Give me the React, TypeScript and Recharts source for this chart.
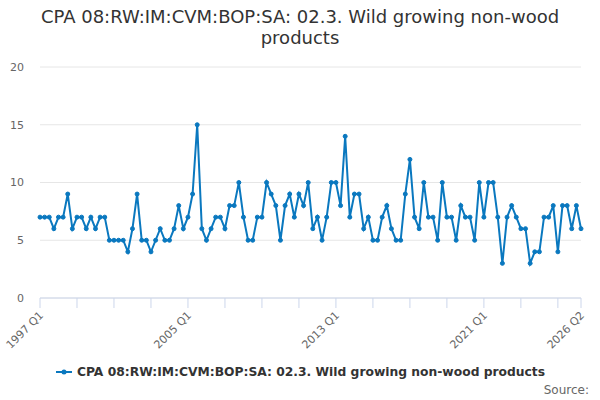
import React from "react";
import { LineChart, Line, XAxis, YAxis, CartesianGrid } from "recharts";

const seriesName = "CPA 08:RW:IM:CVM:BOP:SA: 02.3. Wild growing non-wood products";

// quarterly values, 1997 Q1 .. 2026 Q2
const values = [
  7, 7, 7, 6, 7, 7, 9, 6, 7, 7, 6, 7, 6, 7, 7, 5, 5, 5, 5, 4, 6, 9, 5, 5, 4, 5, 6, 5, 5, 6, 8, 6, 7,
  9, 15, 6, 5, 6, 7, 7, 6, 8, 8, 10, 7, 5, 5, 7, 7, 10, 9, 8, 5, 8, 9, 7, 9, 8, 10, 6, 7, 5, 7, 10, 10, 8,
  14, 7, 9, 9, 6, 7, 5, 5, 7, 8, 6, 5, 5, 9, 12, 7, 6, 10, 7, 7, 5, 10, 7, 7, 5, 8,
  7, 7, 5, 10, 7, 10, 10, 7, 3, 7, 8, 7, 6, 6, 3, 4, 4, 7, 7, 8, 4, 8, 8, 6, 8, 6,
];

const quarters: string[] = [];
for (let y = 1997; y <= 2026; y++) {
  for (let q = 1; q <= 4; q++) {
    if (quarters.length < values.length) quarters.push(`${y} Q${q}`);
  }
}

const tickMarks = quarters.filter((_, i) => i % 8 === 0 || i === quarters.length - 1);
const tickLabels = ["1997 Q1", "2005 Q1", "2013 Q1", "2021 Q1", "2026 Q2"];
const yTicks = [0, 5, 10, 15, 20];

const data = quarters.map((q, i) => ({ quarter: q, value: values[i] }));

const BLUE = "#0a78bf";

const XTick = (props: any) => {
  const { x, y, payload } = props;
  if (!tickLabels.includes(payload.value)) return null;
  return (
    <g transform={`translate(${x + 4},${y + 6})`}>
      <text
        x={0}
        y={0}
        textAnchor="end"
        transform="rotate(-45)"
        fill="#666666"
        fontSize={11}
        fontFamily="DejaVu Sans"
      >
        {payload.value}
      </text>
    </g>
  );
};

const App = () => {
  return (
    <div style={{ position: "absolute", left: 0, top: 0, width: 600, height: 400, background: "#fff" }}>
      <div
        style={{
          position: "absolute",
          top: 6,
          left: 20,
          width: 560,
          textAlign: "center",
          fontFamily: "DejaVu Sans",
          fontSize: 18,
          lineHeight: "21px",
          color: "#333333",
        }}
      >
        {seriesName}
      </div>
      <LineChart
        width={600}
        height={400}
        data={data}
        margin={{ top: 67, right: 19, bottom: 0, left: 0 }}
      >
        <CartesianGrid vertical={false} stroke="#e6e6e6" />
        <XAxis
          dataKey="quarter"
          ticks={tickMarks}
          interval={0}
          tick={<XTick />}
          tickSize={10}
          tickMargin={2}
          axisLine={{ stroke: "#ccd6eb" }}
          tickLine={{ stroke: "#ccd6eb" }}
          height={102}
        />
        <YAxis
          domain={[0, 20]}
          ticks={yTicks}
          width={40}
          axisLine={false}
          tickLine={false}
          tickSize={0}
          tickMargin={16}
          tick={{ fill: "#666666", fontSize: 11, fontFamily: "DejaVu Sans" }}
        />
        <Line
          type="linear"
          dataKey="value"
          name={seriesName}
          stroke={BLUE}
          strokeWidth={2}
          dot={{ r: 2, fill: BLUE, stroke: BLUE, strokeWidth: 1 }}
          activeDot={false}
          isAnimationActive={false}
        />
      </LineChart>
      <div
        style={{
          position: "absolute",
          left: 0,
          top: 365,
          width: 600,
          display: "flex",
          justifyContent: "center",
          alignItems: "center",
          fontFamily: "DejaVu Sans",
          fontSize: 12.3,
          fontWeight: "bold",
          color: "#333333",
        }}
      >
        <svg width={18} height={10} style={{ marginRight: 4 }}>
          <line x1={1} y1={5} x2={17} y2={5} stroke={BLUE} strokeWidth={2} />
          <circle cx={9} cy={5} r={2.5} fill={BLUE} />
        </svg>
        <span>{seriesName}</span>
      </div>
      <div
        style={{
          position: "absolute",
          right: 11,
          top: 383,
          fontFamily: "DejaVu Sans",
          fontSize: 12,
          color: "#666666",
        }}
      >
        Source:
      </div>
    </div>
  );
};

export default App;
